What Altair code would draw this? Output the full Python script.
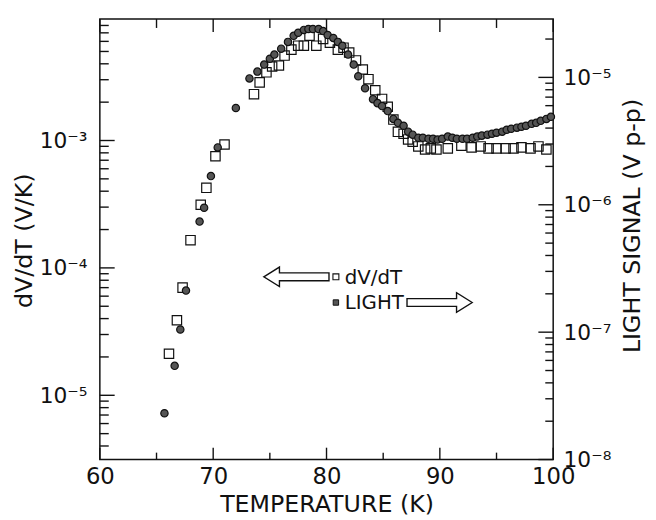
import altair as alt
import pandas as pd

# ---------------- data ----------------
dvdt_T = [66.1, 66.8, 67.3, 68.0, 68.9, 69.4, 70.2, 71.0, 73.6, 74.1, 74.7, 75.2,
          75.8, 76.3, 76.9, 77.5, 78.0, 78.5, 79.1, 79.7, 80.3, 81.0, 81.5, 82.0,
          82.6, 83.2, 83.7, 84.3, 84.9, 85.4, 85.9, 86.3, 86.8, 87.2, 87.6, 88.1,
          88.7, 89.2, 89.7, 90.7, 91.9, 92.8, 93.6, 94.3, 95.0, 95.8, 96.5, 97.2,
          98.0, 98.7, 99.4]
dvdt_V = [2.12e-5, 3.88e-5, 7.0e-5, 1.65e-4, 3.13e-4, 4.25e-4, 7.52e-4, 9.3e-4,
          2.31e-3, 2.86e-3, 3.43e-3, 3.81e-3, 3.88e-3, 4.64e-3, 5.17e-3, 5.55e-3,
          5.55e-3, 6.64e-3, 5.55e-3, 6.28e-3, 5.85e-3, 5.17e-3, 5.35e-3, 4.90e-3,
          4.25e-3, 3.61e-3, 3.03e-3, 2.48e-3, 2.12e-3, 1.84e-3, 1.46e-3, 1.17e-3,
          1.13e-3, 1.02e-3, 9.8e-4, 8.98e-4, 8.5e-4, 8.67e-4, 8.5e-4, 8.67e-4,
          9.1e-4, 8.83e-4, 8.98e-4, 8.67e-4, 8.67e-4, 8.67e-4, 8.67e-4, 8.83e-4,
          8.67e-4, 8.98e-4, 8.5e-4]

light_T = [65.7, 66.6, 67.1, 67.6, 68.8, 69.2, 69.8, 70.4, 72.0, 73.2, 73.9, 74.5,
           75.0, 75.4, 76.0, 76.6, 77.1, 77.5, 78.0, 78.4, 78.8, 79.3, 79.7, 80.1,
           80.6, 81.0, 81.4, 81.9, 82.4, 82.8, 83.4, 84.1, 84.5, 84.9, 85.4, 85.9,
           86.3, 86.8, 87.2, 87.6, 88.1, 88.5, 89.0, 89.4, 89.8, 90.2, 90.7, 91.1,
           91.5, 92.0, 92.4, 92.9, 93.3, 93.7, 94.2, 94.6, 95.0, 95.5, 95.9, 96.3,
           96.8, 97.2, 97.6, 98.1, 98.5, 98.9, 99.4, 99.8]
light_V = [2.31e-8, 5.44e-8, 1.05e-7, 2.12e-7, 7.38e-7, 9.48e-7, 1.68e-6, 2.82e-6,
           5.75e-6, 9.82e-6, 1.11e-5, 1.26e-5, 1.40e-5, 1.51e-5, 1.68e-5, 1.90e-5,
           2.12e-5, 2.24e-5, 2.36e-5, 2.40e-5, 2.40e-5, 2.40e-5, 2.31e-5, 2.15e-5,
           2.04e-5, 1.90e-5, 1.77e-5, 1.51e-5, 1.26e-5, 1.02e-5, 8.22e-6, 6.75e-6,
           6.28e-6, 5.95e-6, 5.44e-6, 4.72e-6, 4.40e-6, 4.17e-6, 3.75e-6, 3.55e-6,
           3.36e-6, 3.36e-6, 3.30e-6, 3.30e-6, 3.25e-6, 3.30e-6, 3.43e-6, 3.36e-6,
           3.30e-6, 3.30e-6, 3.30e-6, 3.36e-6, 3.43e-6, 3.49e-6, 3.55e-6, 3.61e-6,
           3.68e-6, 3.75e-6, 3.88e-6, 3.95e-6, 4.03e-6, 4.10e-6, 4.17e-6, 4.32e-6,
           4.40e-6, 4.56e-6, 4.72e-6, 4.90e-6]

x_major_ticks = [60, 70, 80, 90, 100]
x_minor_ticks = [65, 75, 85, 95]
left_decades = [-5, -4, -3]
right_decades = [-8, -7, -6, -5]

# ---------------- styling ----------------
W, H = 459, 446
FONT = "DejaVu Sans"
INK = "#111111"
LEFT_DOMAIN = [3.13e-6, 8.98e-3]
RIGHT_DOMAIN = [1.0e-8, 2.87e-5]

SUP = str.maketrans("-0123456789", "⁻⁰¹²³⁴⁵⁶⁷⁸⁹")


def log_ticks(lo, hi):
    major, minor = [], []
    for e in range(-9, -1):
        for m in range(1, 10):
            v = float(f"{m}e{e}")
            if lo * 0.999 <= v <= hi * 1.001:
                (major if m == 1 else minor).append(v)
    return major, minor


def label_expr(exps):
    s = "''"
    for e in exps:
        s = (f"(abs(log(datum.value)/LN10 - ({e})) < 0.001 ? "
             f"'10{str(e).translate(SUP)}' : {s})")
    return s


common_axis = dict(
    domain=False, ticks=False, grid=False, labelFont=FONT, labelFontSize=22,
    labelColor=INK, labelOverlap=False, labelFlush=False, titleFont=FONT,
    titleFontSize=24, titleFontWeight="normal", titleColor=INK,
)

x_enc = alt.X(
    "T:Q",
    scale=alt.Scale(domain=[60, 100], nice=False, zero=False),
    axis=alt.Axis(values=x_major_ticks, format="d", labelPadding=6,
                  title="TEMPERATURE (K)", titleY=46, titleBaseline="middle",
                  **{**common_axis, "labelFontSize": 23}),
)

left_major, left_minor = log_ticks(*LEFT_DOMAIN)
right_major, right_minor = log_ticks(*RIGHT_DOMAIN)

y_left = alt.Y(
    "v:Q", scale=alt.Scale(type="log", domain=LEFT_DOMAIN, nice=False),
    axis=alt.Axis(orient="left", values=left_major + left_minor,
                  labelExpr=label_expr(left_decades), labelPadding=13,
                  title="dV/dT (V/K)", titleAngle=270, titleX=-76, titleY=224,
                  titleAlign="center", titleBaseline="middle", **common_axis))

y_right = alt.Y(
    "v:Q", scale=alt.Scale(type="log", domain=RIGHT_DOMAIN, nice=False),
    axis=alt.Axis(orient="right", values=right_major + right_minor,
                  labelExpr=label_expr(right_decades), labelPadding=10,
                  title="LIGHT SIGNAL (V p-p)", titleAngle=270, titleX=80,
                  titleY=209, titleAlign="center", titleBaseline="middle",
                  **common_axis))

sq_df = pd.DataFrame({"T": dvdt_T, "v": dvdt_V})
li_df = pd.DataFrame({"T": light_T, "v": light_V})

TICK = dict(color=INK, strokeWidth=1.4)

# ---- inward tick marks (axis furniture) ----
xmaj_df = pd.DataFrame({"T": x_major_ticks})
xmin_df = pd.DataFrame({"T": x_minor_ticks})
xt_bot_major = alt.Chart(xmaj_df).mark_rule(**TICK).encode(
    x=x_enc, y=alt.value(H), y2=alt.value(H - 12))
xt_bot_minor = alt.Chart(xmin_df).mark_rule(**TICK).encode(
    x=x_enc, y=alt.value(H), y2=alt.value(H - 7))
xt_top_major = alt.Chart(xmaj_df).mark_rule(**TICK).encode(
    x=x_enc, y=alt.value(0), y2=alt.value(13))
xt_top_minor = alt.Chart(xmin_df).mark_rule(**TICK).encode(
    x=x_enc, y=alt.value(0), y2=alt.value(9))

lt_major = alt.Chart(pd.DataFrame({"v": left_major})).mark_rule(**TICK).encode(
    y=y_left, x=alt.value(0), x2=alt.value(15))
lt_minor = alt.Chart(pd.DataFrame({"v": left_minor})).mark_rule(**TICK).encode(
    y=y_left, x=alt.value(0), x2=alt.value(9))
rt_major = alt.Chart(pd.DataFrame({"v": right_major})).mark_rule(**TICK).encode(
    y=y_right, x=alt.value(W), x2=alt.value(W - 15))
rt_minor = alt.Chart(pd.DataFrame({"v": right_minor})).mark_rule(**TICK).encode(
    y=y_right, x=alt.value(W), x2=alt.value(W - 8))

squares = alt.Chart(sq_df).mark_point(
    shape="square", filled=False, size=90, stroke=INK, strokeWidth=1.2, opacity=1
).encode(x=x_enc, y=y_left)

light = alt.Chart(li_df).mark_point(
    shape="circle", filled=True, size=55, fill="#555555", stroke=INK,
    strokeWidth=1.2, opacity=1
).encode(x=x_enc, y=y_right)

left_group = alt.layer(lt_major, lt_minor, squares)
right_group = alt.layer(rt_major, rt_minor, light)

# ---------------- legend annotation ----------------
LEFT_ARROW = ("M -1 0 L -0.52 -0.3 L -0.52 -0.12 L 1 -0.12 L 1 0.12 "
              "L -0.52 0.12 L -0.52 0.3 Z")
RIGHT_ARROW = ("M 1 0 L 0.52 -0.3 L 0.52 -0.12 L -1 -0.12 L -1 0.12 "
               "L 0.52 0.12 L 0.52 0.3 Z")

one = pd.DataFrame({"k": [0]})

arrow_l = alt.Chart(one).mark_point(
    shape=LEFT_ARROW, size=4356, filled=True, fill="white", stroke=INK,
    strokeWidth=1.4, opacity=1
).encode(x=alt.value(199), y=alt.value(261))

arrow_r = alt.Chart(one).mark_point(
    shape=RIGHT_ARROW, size=4356, filled=True, fill="white", stroke=INK,
    strokeWidth=1.4, opacity=1
).encode(x=alt.value(344), y=alt.value(287))

sym_sq = alt.Chart(one).mark_point(
    shape="square", filled=False, size=36, stroke=INK, strokeWidth=1.1, opacity=1
).encode(x=alt.value(239), y=alt.value(261))

sym_li = alt.Chart(one).mark_point(
    shape="square", filled=True, size=30, fill="#555555", stroke=INK,
    strokeWidth=1, opacity=1
).encode(x=alt.value(239), y=alt.value(287))

txt_dv = alt.Chart(pd.DataFrame({"t": ["dV/dT"]})).mark_text(
    align="left", baseline="middle", font=FONT, fontSize=20, color=INK
).encode(text="t:N", x=alt.value(248), y=alt.value(262))

txt_li = alt.Chart(pd.DataFrame({"t": ["LIGHT"]})).mark_text(
    align="left", baseline="middle", font=FONT, fontSize=20, color=INK
).encode(text="t:N", x=alt.value(248), y=alt.value(288))

chart = alt.layer(
    xt_bot_major, xt_bot_minor, xt_top_major, xt_top_minor,
    left_group, right_group,
    arrow_l, arrow_r, sym_sq, sym_li, txt_dv, txt_li
).resolve_scale(y="independent").properties(
    width=W, height=H,
    autosize=alt.AutoSizeParams(type="none"),
    padding={"left": 93, "top": 8, "right": 96, "bottom": 58},
).configure_view(stroke=INK, strokeWidth=1.5)

chart.save("out.html", embed_options={"renderer": "svg", "actions": False})
